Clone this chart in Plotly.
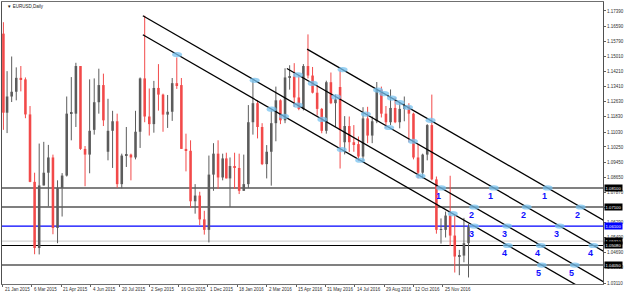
import numpy as np
import pandas as pd
import plotly.graph_objects as go

# ---------------- data ----------------
ORIGIN = "2015-01-21"
HOLIDAYS = ["2015-12-25", "2016-01-01"]

week_dates = ["2015-01-22"] + [d.strftime("%Y-%m-%d") for d in
                               pd.date_range("2015-01-28", "2017-01-04", freq="W-WED")]

opens = [1.1620, 1.1205, 1.1290, 1.1315, 1.1388, 1.1380, 1.1196, 1.0842, 1.0495, 1.0823,
         1.0890, 1.0970, 1.0600, 1.0810, 1.0875, 1.1200, 1.1200, 1.1450, 1.1015, 1.0985,
         1.1115, 1.1260, 1.1350, 1.1000, 1.1110, 1.1160, 1.0830, 1.0980, 1.0985, 1.0970,
         1.1105, 1.1385, 1.1185, 1.1145, 1.1335, 1.1300, 1.1195, 1.1210, 1.1360, 1.1350,
         1.1015, 1.1005, 1.0740, 1.0770, 1.0645, 1.0590, 1.0880, 1.0990, 1.0865, 1.0965,
         1.0860, 1.0925, 1.0915, 1.0795, 1.0830, 1.1155, 1.1255, 1.1130, 1.0935, 1.1000,
         1.1150, 1.1270, 1.1165, 1.1390, 1.1395, 1.1285, 1.1225, 1.1450, 1.1400, 1.1310,
         1.1225, 1.1110, 1.1365, 1.1255, 1.1340, 1.1050, 1.1135, 1.1050, 1.1040, 1.0975,
         1.1175, 1.1085, 1.1160, 1.1325, 1.1200, 1.1155, 1.1230, 1.1155, 1.1225, 1.1240,
         1.1200, 1.0970, 1.0890, 1.0985, 1.1140, 1.0855, 1.0590, 1.0590, 1.0665, 1.0560,
         1.0450, 1.0455, 1.0520]
highs = [1.1680, 1.1423, 1.1500, 1.1443, 1.1450, 1.1390, 1.1240, 1.0890, 1.1043, 1.1052,
         1.1036, 1.0985, 1.0850, 1.0888, 1.1290, 1.1392, 1.1467, 1.1450, 1.1030, 1.1380,
         1.1385, 1.1436, 1.1410, 1.1278, 1.1215, 1.1200, 1.0990, 1.1130, 1.0990, 1.1215,
         1.1390, 1.1714, 1.1332, 1.1372, 1.1460, 1.1305, 1.1298, 1.1387, 1.1495, 1.1387,
         1.1095, 1.1060, 1.0830, 1.0790, 1.0690, 1.0980, 1.1045, 1.1060, 1.0990, 1.0995,
         1.0970, 1.0995, 1.0990, 1.0985, 1.1245, 1.1376, 1.1270, 1.1150, 1.1035, 1.1218,
         1.1342, 1.1275, 1.1438, 1.1454, 1.1465, 1.1400, 1.1460, 1.1616, 1.1445, 1.1350,
         1.1230, 1.1373, 1.1416, 1.1300, 1.1428, 1.1187, 1.1185, 1.1140, 1.1080, 1.1234,
         1.1236, 1.1185, 1.1366, 1.1342, 1.1240, 1.1327, 1.1285, 1.1258, 1.1290, 1.1255,
         1.1205, 1.1040, 1.0990, 1.1145, 1.1300, 1.0870, 1.0650, 1.0686, 1.0874, 1.0670,
         1.0485, 1.0653, 1.0620]
lows = [1.1115, 1.1098, 1.1261, 1.1270, 1.1317, 1.1176, 1.0840, 1.0462, 1.0461, 1.0823,
        1.0713, 1.0567, 1.0520, 1.0660, 1.0870, 1.1060, 1.1130, 1.1010, 1.0819, 1.0887,
        1.1090, 1.1200, 1.1135, 1.0955, 1.0915, 1.0810, 1.0808, 1.0920, 1.0850, 1.0960,
        1.1020, 1.1155, 1.1085, 1.1100, 1.1216, 1.1105, 1.1125, 1.1162, 1.1330, 1.1015,
        1.0897, 1.0705, 1.0675, 1.0615, 1.0565, 1.0524, 1.0795, 1.0805, 1.0850, 1.0860,
        1.0710, 1.0805, 1.0778, 1.0795, 1.0810, 1.1090, 1.1070, 1.0930, 1.0860, 1.0822,
        1.1055, 1.1145, 1.1150, 1.1326, 1.1235, 1.1218, 1.1217, 1.1385, 1.1306, 1.1190,
        1.1097, 1.1095, 1.1250, 1.1131, 1.0912, 1.0986, 1.0999, 1.1000, 1.0952, 1.0950,
        1.1045, 1.1045, 1.1150, 1.1180, 1.1123, 1.1140, 1.1150, 1.1123, 1.1160, 1.1050,
        1.0960, 1.0860, 1.0860, 1.0955, 1.0850, 1.0570, 1.0518, 1.0550, 1.0505, 1.0366,
        1.0352, 1.0420, 1.0340]
closes = [1.1205, 1.1290, 1.1315, 1.1388, 1.1380, 1.1196, 1.0842, 1.0495, 1.0823, 1.0890,
          1.0970, 1.0600, 1.0810, 1.0875, 1.1200, 1.1200, 1.1450, 1.1015, 1.0985, 1.1110,
          1.1260, 1.1350, 1.1165, 1.1110, 1.1160, 1.0830, 1.0980, 1.0985, 1.0970, 1.1105,
          1.1385, 1.1185, 1.1145, 1.1335, 1.1300, 1.1195, 1.1210, 1.1360, 1.1350, 1.1015,
          1.1005, 1.0740, 1.0770, 1.0645, 1.0590, 1.0880, 1.0990, 1.0865, 1.0965, 1.0860,
          1.0925, 1.0915, 1.0795, 1.0830, 1.1155, 1.1255, 1.1130, 1.0935, 1.1000, 1.1150,
          1.1270, 1.1165, 1.1390, 1.1395, 1.1285, 1.1225, 1.1450, 1.1400, 1.1310, 1.1225,
          1.1110, 1.1365, 1.1255, 1.1275, 1.1115, 1.1135, 1.1050, 1.1040, 1.0975, 1.1175,
          1.1085, 1.1160, 1.1325, 1.1200, 1.1155, 1.1230, 1.1155, 1.1225, 1.1240, 1.1200,
          1.0970, 1.0890, 1.0985, 1.1140, 1.0855, 1.0590, 1.0590, 1.0665, 1.0560, 1.0450,
          1.0455, 1.0520, 1.0605]

x_tick_dates = ["2015-01-21", "2015-03-06", "2015-04-21", "2015-06-04", "2015-07-20",
                "2015-09-02", "2015-10-16", "2015-12-01", "2016-01-18", "2016-03-02",
                "2016-04-15", "2016-05-31", "2016-07-14", "2016-08-29", "2016-10-12",
                "2016-11-25"]
x_tick_text = ["21 Jan 2015", "6 Mar 2015", "21 Apr 2015", "4 Jun 2015", "20 Jul 2015",
               "2 Sep 2015", "16 Oct 2015", "1 Dec 2015", "18 Jan 2016", "2 Mar 2016",
               "15 Apr 2016", "31 May 2016", "14 Jul 2016", "29 Aug 2016", "12 Oct 2016",
               "25 Nov 2016"]

y_tick_vals = [1.17390, 1.16590, 1.15790, 1.15010, 1.14210, 1.13410, 1.12630,
               1.11830, 1.11030, 1.10250, 1.09450, 1.08650, 1.07870, 1.07070,
               1.06290, 1.05490, 1.04690, 1.03910, 1.03110]
# 1.07070 sits under the 1.07100 price box in the reference, so its text is not shown
y_tick_text = ["1.17390", "1.16590", "1.15790", "1.15010", "1.14210", "1.13410", "1.12630",
               "1.11830", "1.11030", "1.10250", "1.09450", "1.08650", "1.07870", "",
               "1.06290", "1.05490", "1.04690", "1.03910", "1.03110"]

level_prices = [1.0810, 1.0710, 1.0610, 1.0531, 1.0508, 1.0405]
level_labels = ["1.08100", "1.07100", "1.06100", "1.05310", "1.05080", "1.04050"]

# channel lines: start date, start price; common slope per trading day
chan_names = ["A", "B", "C", "D"]
chan_start_dates = ["2015-08-24", "2015-08-24", "2016-04-01", "2016-05-03"]
chan_start_prices = [1.1714, 1.1614, 1.1437, 1.1539]
chan_slope = -0.000278

# touch points (line, trading-day index)
touch_line = ["B", "B", "B", "B", "B", "B",
              "A", "A", "A", "A",
              "C", "C", "C", "C", "C", "C",
              "D", "D", "D", "D", "D", "D", "D"]
touch_bar = [190.3, 293.4, 306.9, 369.8, 389.9, 490.8,
             274.9, 321.9, 348.7, 455.7,
             322.1, 338.2, 363.6, 396.1, 421.4, 447.4,
             370.7, 409.4, 416.0, 424.5, 433.0, 442.0, 466.6]

# numbered crossings: level number, level price, lines crossing it
num_levels = [1, 2, 3, 4, 5]
num_level_prices = [1.0810, 1.0710, 1.0610, 1.0508, 1.0405]
num_level_lines = [["A", "C", "D"], ["A", "C", "D"], ["B", "A", "C"], ["B", "A", "C"], ["B", "A"]]


def bar(d):
    return float(np.busday_count(ORIGIN, np.datetime64(d, "D"), holidays=HOLIDAYS))


def chan_price(name, b):
    i = chan_names.index(name)
    return chan_start_prices[i] + chan_slope * (b - bar(chan_start_dates[i]))


# ---------------- figure ----------------
FONT = "Liberation Sans"
X_RANGE = [-0.54, 654.6]
Y_RANGE = [1.03058, 1.17861]
UP = "#5c5c5c"
DOWN = "#f24a4a"

xb = [bar(d) for d in week_dates]

fig = go.Figure()

# horizontal levels
level_colors = ["#808080", "#000000", "#0000ff", "#c8c8c8", "#000000", "#808080"]
level_widths = [2, 1.2, 1.2, 1, 1.2, 2]
for p, c, w in zip(level_prices, level_colors, level_widths):
    fig.add_shape(type="line", xref="paper", x0=0, x1=1, yref="y", y0=p, y1=p,
                  line=dict(color=c, width=w), layer="below")

# candles: wicks + bodies
for is_up, col in [(True, UP), (False, DOWN)]:
    wx, wy = [], []
    bx, bbase, bh = [], [], []
    for x, o, h, l, c in zip(xb, opens, highs, lows, closes):
        if (c >= o) != is_up:
            continue
        wx += [x, x, None]
        wy += [l, h, None]
        bx.append(x)
        bbase.append(min(o, c))
        bh.append(max(abs(c - o), 0.0004))
    fig.add_trace(go.Scatter(x=wx, y=wy, mode="lines", line=dict(color=col, width=1),
                             showlegend=False, hoverinfo="skip"))
    fig.add_trace(go.Bar(x=bx, y=bh, base=bbase, width=2.8, marker=dict(color=col, line=dict(width=0)),
                         showlegend=False, hoverinfo="skip"))

# channel lines
end_bar = X_RANGE[1] + 10
for n, d in zip(chan_names, chan_start_dates):
    b0 = bar(d)
    fig.add_trace(go.Scatter(x=[b0, end_bar], y=[chan_price(n, b0), chan_price(n, end_bar)],
                             mode="lines", line=dict(color="black", width=1.3),
                             showlegend=False, hoverinfo="skip"))

# touch ellipses
def ellipse(b, p):
    fig.add_shape(type="circle", xref="x", yref="y", xsizemode="pixel", ysizemode="pixel",
                  xanchor=b, yanchor=p, x0=-5, x1=5, y0=-2.6, y1=2.6,
                  fillcolor="rgba(120,195,240,0.75)", line=dict(width=0))

for n, b in zip(touch_line, touch_bar):
    ellipse(b, chan_price(n, b))

for k, lp, lines in zip(num_levels, num_level_prices, num_level_lines):
    for n in lines:
        i = chan_names.index(n)
        b = bar(chan_start_dates[i]) + (lp - chan_start_prices[i]) / chan_slope
        ellipse(b, lp)
        fig.add_annotation(x=b, y=lp, text=str(k), showarrow=False, xshift=-3, yshift=-8,
                           font=dict(family=FONT, size=9, color="#1010ff", weight="bold"))

# level label boxes on the price scale
box_bg = ["#000000", "#000000", "#0000ff", "#000000", "#000000", "#000000"]
for p, t, bg in zip(level_prices, level_labels, box_bg):
    fig.add_annotation(xref="paper", x=1, yref="y", y=p, text=t, showarrow=False,
                       xanchor="left", yanchor="middle", xshift=1, bgcolor=bg,
                       borderpad=0.6, font=dict(family=FONT, size=4.2, color="white"))

# x tick labels (left aligned as in MT4)
for d, t in zip(x_tick_dates, x_tick_text):
    fig.add_annotation(x=bar(d), xref="x", yref="paper", y=0, yshift=-5, text=t,
                       showarrow=False, xanchor="left", yanchor="middle",
                       font=dict(family=FONT, size=4.5, color="#303030"))

fig.add_annotation(xref="paper", yref="paper", x=0, y=1, xshift=3, yshift=-4,
                   text="▼ EURUSD,Daily", showarrow=False, xanchor="left", yanchor="middle",
                   font=dict(family=FONT, size=4.5, color="#202020"))

fig.update_layout(
    width=625, height=295,
    margin=dict(l=1, r=20, t=1, b=11),
    paper_bgcolor="white", plot_bgcolor="white",
    showlegend=False, barmode="overlay",
    xaxis=dict(range=X_RANGE, showgrid=False, zeroline=False,
               tickvals=[bar(d) for d in x_tick_dates], ticktext=[""] * len(x_tick_dates),
               ticks="outside", ticklen=2, tickcolor="#606060",
               showline=True, linecolor="#707070", linewidth=1, mirror=True),
    yaxis=dict(range=Y_RANGE, side="right", showgrid=False, zeroline=False,
               tickvals=y_tick_vals, ticktext=y_tick_text,
               ticks="outside", ticklen=2, tickcolor="#606060",
               tickfont=dict(family=FONT, size=4.5, color="#303030"),
               showline=True, linecolor="#505050", linewidth=1, mirror=True),
)

fig.write_html("out.html")
